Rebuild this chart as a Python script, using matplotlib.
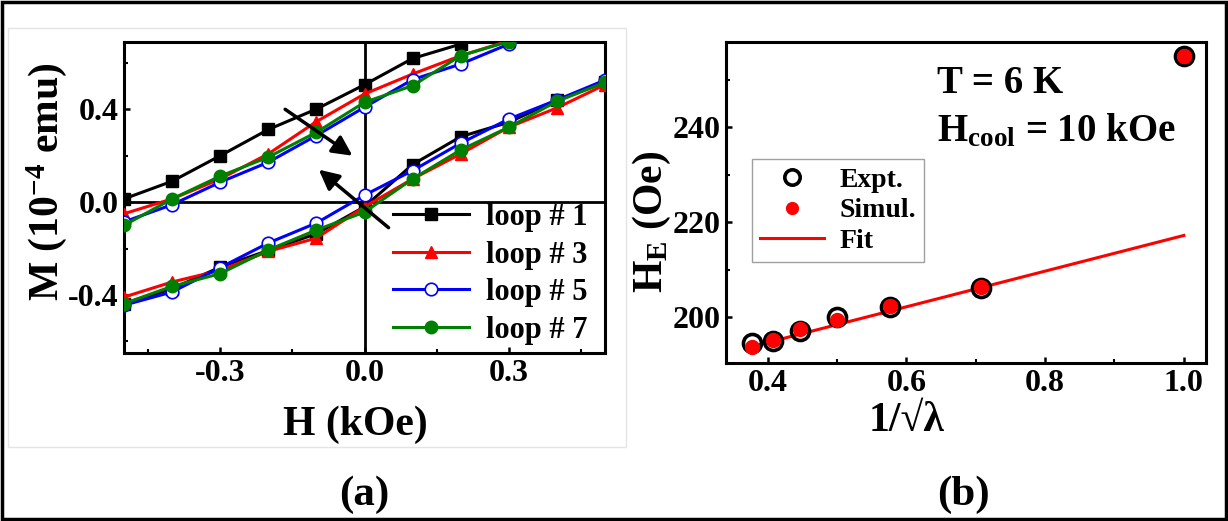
import numpy as np
import matplotlib
matplotlib.use("Agg")
import matplotlib.pyplot as plt
from matplotlib.patches import Rectangle

plt.rcParams['font.family'] = ['Liberation Serif', 'DejaVu Serif']
plt.rcParams['font.weight'] = 'bold'
plt.rcParams['axes.labelweight'] = 'bold'
plt.rcParams['mathtext.fontset'] = 'custom'
plt.rcParams['mathtext.rm'] = 'Liberation Serif:bold'
plt.rcParams['mathtext.bf'] = 'Liberation Serif:bold'
plt.rcParams['mathtext.it'] = 'Liberation Serif:italic:bold'
plt.rcParams['axes.unicode_minus'] = False

# (a) training loops: field steps for both branches
H_down = [-0.5, -0.4, -0.3, -0.2, -0.1, 0.0, 0.1, 0.2, 0.3, 0.4]
H_up = [-0.5, -0.4, -0.3, -0.2, -0.1, 0.0, 0.1, 0.2, 0.3, 0.4, 0.5]

# descending branch (upper curve)
M1_down = [0.014, 0.090, 0.200, 0.313, 0.401, 0.506, 0.619, 0.681, 0.78, 0.86]
M3_down = [-0.050, 0.014, 0.100, 0.208, 0.347, 0.466, 0.552, 0.631, 0.695, 0.78]
M5_down = [-0.085, -0.011, 0.086, 0.172, 0.287, 0.409, 0.528, 0.595, 0.681, 0.77]
M7_down = [-0.100, 0.014, 0.112, 0.194, 0.301, 0.430, 0.502, 0.631, 0.692, 0.78]

# ascending branch (lower curve)
M1_up = [-0.437, -0.373, -0.280, -0.208, -0.136, -0.020, 0.162, 0.282, 0.344, 0.440, 0.516]
M3_up = [-0.409, -0.344, -0.294, -0.212, -0.155, -0.020, 0.100, 0.208, 0.323, 0.406, 0.506]
M5_up = [-0.444, -0.387, -0.282, -0.176, -0.090, 0.030, 0.136, 0.254, 0.358, 0.440, 0.526]
M7_up = [-0.437, -0.363, -0.308, -0.206, -0.120, -0.043, 0.100, 0.225, 0.323, 0.434, 0.516]

loop_names = ['loop # 1', 'loop # 3', 'loop # 5', 'loop # 7']

# (b) exchange bias vs 1/sqrt(lambda)
inv_sqrt_lam = [0.378, 0.408, 0.447, 0.500, 0.577, 0.707, 1.000]
HE_expt = [194.6, 194.9, 197.1, 200.1, 202.1, 206.1, 255.1]
HE_simul = [193.7, 195.2, 197.4, 199.3, 202.3, 206.3, 255.1]
fit_x = [0.378, 1.000]
fit_y = [193.8, 217.2]

fig = plt.figure(figsize=(12.28, 5.21), dpi=100)

# ---------- panel (a) ----------
ax1 = fig.add_axes([124/1228, 1-353/521, 481/1228, 311/521])
ax1.axhline(0, color='black', lw=2.0, zorder=1)
ax1.axvline(0, color='black', lw=2.0, zorder=1)

styles = [
    dict(color='black', marker='s', mfc='black', mec='black', ms=8),
    dict(color='red', marker='^', mfc='red', mec='red', ms=9),
    dict(color='blue', marker='o', mfc='white', mec='blue', ms=9, mew=1.2),
    dict(color='#008000', marker='o', mfc='#008000', mec='#008000', ms=9),
]
downs = [M1_down, M3_down, M5_down, M7_down]
ups = [M1_up, M3_up, M5_up, M7_up]
for name, st, md, mu in zip(loop_names, styles, downs, ups):
    ax1.plot(H_down, md, lw=2.2, label=name, zorder=3, **st)
    ax1.plot(H_up, mu, lw=2.2, zorder=3, **st)

ax1.set_xlim(-0.5, 0.5)
ax1.set_ylim(-0.65, 0.69)
ax1.set_xticks([-0.3, 0.0, 0.3])
ax1.set_xticks([-0.45, -0.15, 0.15, 0.45], minor=True)
ax1.set_yticks([-0.4, 0.0, 0.4])
ax1.set_yticks([-0.6, -0.2, 0.2, 0.6], minor=True)
ax1.xaxis.set_major_formatter(plt.FormatStrFormatter('%.1f'))
ax1.yaxis.set_major_formatter(plt.FormatStrFormatter('%.1f'))

ax1.annotate('', xy=(-0.025, 0.20), xytext=(-0.165, 0.40),
             arrowprops=dict(arrowstyle='-|>', color='black', lw=2.5,
                             mutation_scale=30, shrinkA=0, shrinkB=0))
ax1.annotate('', xy=(-0.095, 0.14), xytext=(0.05, -0.11),
             arrowprops=dict(arrowstyle='-|>', color='black', lw=2.5,
                             mutation_scale=30, shrinkA=0, shrinkB=0))

ax1.legend(loc='upper left', bbox_to_anchor=((393-124)/481, (353-203)/311),
           frameon=False, fontsize=22, borderpad=0, handlelength=2.5,
           handletextpad=0.55, labelspacing=0.28, borderaxespad=0)

ax1.set_xlabel('H (kOe)', fontsize=30)
ax1.xaxis.set_label_coords(0.482, -0.17)
ax1.set_ylabel('M (10$^{-4}$ emu)', fontsize=30)
ax1.yaxis.set_label_coords(-0.115, 0.55)

# ---------- panel (b) ----------
ax2 = fig.add_axes([726/1228, 1-363/521, 480/1228, 321/521])
ax2.plot(inv_sqrt_lam, HE_expt, ls='none', marker='o', mfc='none', mec='black',
         ms=13, mew=2.6, label='Expt.', zorder=3)
ax2.plot(inv_sqrt_lam, HE_simul, ls='none', marker='o', mfc='red', mec='red',
         ms=10, label='Simul.', zorder=4)
ax2.plot(fit_x, fit_y, color='red', lw=2.2, label='Fit', zorder=2)

ax2.set_xlim(0.34, 1.032)
ax2.set_ylim(190.3, 258)
ax2.set_xticks([0.4, 0.6, 0.8, 1.0])
ax2.set_xticks([0.5, 0.7, 0.9], minor=True)
ax2.set_yticks([200, 220, 240])
ax2.set_yticks([210, 230, 250], minor=True)
ax2.xaxis.set_major_formatter(plt.FormatStrFormatter('%.1f'))

leg = ax2.legend(loc='upper left', bbox_to_anchor=((752-726)/480, (363-159)/321),
                 fontsize=20, borderpad=0.3, handlelength=2.3, handletextpad=0.55,
                 labelspacing=0.18, borderaxespad=0, fancybox=False, markerscale=0.85)
leg.get_frame().set_edgecolor('#888888')
leg.get_frame().set_linewidth(1.0)

ax2.text(0.44, 0.84, 'T = 6 K', transform=ax2.transAxes, fontsize=28)
ax2.text(0.44, 0.69, 'H$_{\\mathrm{cool}}$ = 10 kOe', transform=ax2.transAxes, fontsize=28)

ax2.set_xlabel('1/\u221a\u03bb', fontsize=30)
ax2.xaxis.set_label_coords(0.377, -0.12)
ax2.set_ylabel('H$_{\\mathrm{E}}$ (Oe)', fontsize=30)
ax2.yaxis.set_label_coords(-0.11, 0.44)

for ax in (ax1, ax2):
    for sp in ax.spines.values():
        sp.set_linewidth(2.2)
    ax.tick_params(which='major', direction='in', length=4, width=1.8,
                   labelsize=23, pad=4)
    ax.tick_params(which='minor', direction='in', length=3, width=1.5)

fig.text(364/1228, 1-495/521, '(a)', fontsize=31, ha='center', va='center')
fig.text(963/1228, 1-495/521, '(b)', fontsize=31, ha='center', va='center')

# faint box around panel (a) and the outer frame
fig.patches.append(Rectangle((8/1228, 1-447/521), 618/1228, 419/521,
                             transform=fig.transFigure, fill=False,
                             edgecolor='#e4e4e4', lw=1.0))
fig.patches.append(Rectangle((0.002, 0.004), 0.996, 0.993,
                             transform=fig.transFigure, fill=False,
                             edgecolor='black', lw=2.5))

fig.savefig('out.png', dpi=100)
